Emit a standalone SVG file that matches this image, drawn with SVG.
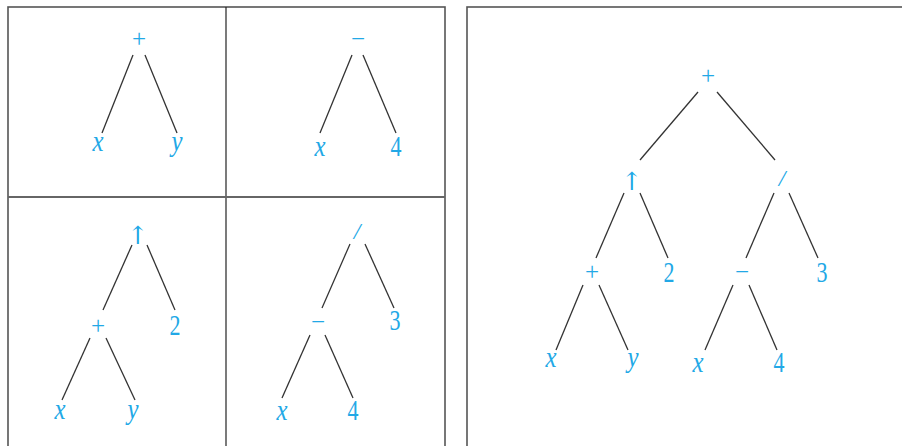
<svg xmlns="http://www.w3.org/2000/svg" width="902" height="446" viewBox="0 0 902 446">
<style>
.frame{fill:none;stroke:#555;stroke-width:1.6}
.div{stroke:#222;stroke-width:1.2}
.hdiv{stroke:#666;stroke-width:2}
.edge{stroke:#333;stroke-width:1.3;fill:none}
text{font-family:"Liberation Serif","Times New Roman",serif;fill:#22a8e6;text-anchor:middle}
.v{font-style:italic;font-size:29px}
.n{font-size:29px}
.op{font-size:25px}
.ar{font-family:"DejaVu Serif",serif;font-size:25px}
.sl{font-style:italic;font-size:24px}
</style>
<rect width="902" height="446" fill="#fff"/>
<g id="frames">
<rect class="frame" x="8" y="7" width="437" height="445"/>
<line class="div" x1="226" y1="7" x2="226" y2="446"/>
<line class="hdiv" x1="8" y1="197" x2="445" y2="197"/>
<rect class="frame" x="467" y="7" width="440" height="445"/>
</g>
<g id="connectors">
<line class="edge" x1="133" y1="55" x2="102" y2="133"/>
<line class="edge" x1="145" y1="55" x2="177" y2="133"/>
<line class="edge" x1="352" y1="55" x2="320" y2="133"/>
<line class="edge" x1="363" y1="55" x2="396" y2="133"/>
<line class="edge" x1="132" y1="245" x2="103" y2="310"/>
<line class="edge" x1="147" y1="245" x2="175" y2="310"/>
<line class="edge" x1="90" y1="338" x2="62" y2="400"/>
<line class="edge" x1="106" y1="338" x2="135" y2="400"/>
<line class="edge" x1="350" y1="244" x2="322" y2="308"/>
<line class="edge" x1="365" y1="244" x2="394" y2="308"/>
<line class="edge" x1="310" y1="335" x2="282" y2="398"/>
<line class="edge" x1="325" y1="335" x2="353" y2="398"/>
<line class="edge" x1="698" y1="92" x2="640" y2="160"/>
<line class="edge" x1="717" y1="92" x2="775" y2="160"/>
<line class="edge" x1="624" y1="193" x2="596" y2="258"/>
<line class="edge" x1="640" y1="193" x2="668" y2="258"/>
<line class="edge" x1="774" y1="193" x2="746" y2="258"/>
<line class="edge" x1="789" y1="193" x2="818" y2="258"/>
<line class="edge" x1="583" y1="285" x2="556" y2="350"/>
<line class="edge" x1="599" y1="285" x2="628" y2="350"/>
<line class="edge" x1="733" y1="285" x2="705" y2="350"/>
<line class="edge" x1="749" y1="285" x2="777" y2="350"/>
</g>
<g id="t1-plus"><text class="op" x="139" y="47">+</text></g>
<g id="t1-x"><text class="v" x="98" y="151" textLength="11" lengthAdjust="spacingAndGlyphs">x</text></g>
<g id="t1-y"><text class="v" x="177" y="151" textLength="11" lengthAdjust="spacingAndGlyphs">y</text></g>
<g id="t2-minus"><text class="op" x="358" y="47">−</text></g>
<g id="t2-x"><text class="v" x="320" y="156" textLength="11" lengthAdjust="spacingAndGlyphs">x</text></g>
<g id="t2-4"><text class="n" x="396" y="156" textLength="11" lengthAdjust="spacingAndGlyphs">4</text></g>
<g id="t3-up"><text class="ar" x="138" y="244">↑</text></g>
<g id="t3-plus"><text class="op" x="98" y="334">+</text></g>
<g id="t3-2"><text class="n" x="175" y="335" textLength="11" lengthAdjust="spacingAndGlyphs">2</text></g>
<g id="t3-x"><text class="v" x="60" y="419" textLength="11" lengthAdjust="spacingAndGlyphs">x</text></g>
<g id="t3-y"><text class="v" x="133" y="419" textLength="11" lengthAdjust="spacingAndGlyphs">y</text></g>
<g id="t4-div"><text class="sl" x="357" y="239">/</text></g>
<g id="t4-minus"><text class="op" x="318" y="330">−</text></g>
<g id="t4-3"><text class="n" x="395" y="330" textLength="11" lengthAdjust="spacingAndGlyphs">3</text></g>
<g id="t4-x"><text class="v" x="282" y="420" textLength="11" lengthAdjust="spacingAndGlyphs">x</text></g>
<g id="t4-4"><text class="n" x="353" y="420" textLength="11" lengthAdjust="spacingAndGlyphs">4</text></g>
<g id="r-plus"><text class="op" x="708" y="84">+</text></g>
<g id="r-up"><text class="ar" x="632" y="190">↑</text></g>
<g id="r-div"><text class="sl" x="782" y="186">/</text></g>
<g id="r-plus2"><text class="op" x="592" y="280">+</text></g>
<g id="r-2"><text class="n" x="669" y="282" textLength="11" lengthAdjust="spacingAndGlyphs">2</text></g>
<g id="r-minus"><text class="op" x="742" y="280">−</text></g>
<g id="r-3"><text class="n" x="822" y="282" textLength="11" lengthAdjust="spacingAndGlyphs">3</text></g>
<g id="r-x1"><text class="v" x="551" y="367" textLength="11" lengthAdjust="spacingAndGlyphs">x</text></g>
<g id="r-y"><text class="v" x="633" y="367" textLength="11" lengthAdjust="spacingAndGlyphs">y</text></g>
<g id="r-x2"><text class="v" x="698" y="372" textLength="11" lengthAdjust="spacingAndGlyphs">x</text></g>
<g id="r-4"><text class="n" x="779" y="372" textLength="11" lengthAdjust="spacingAndGlyphs">4</text></g>
</svg>
